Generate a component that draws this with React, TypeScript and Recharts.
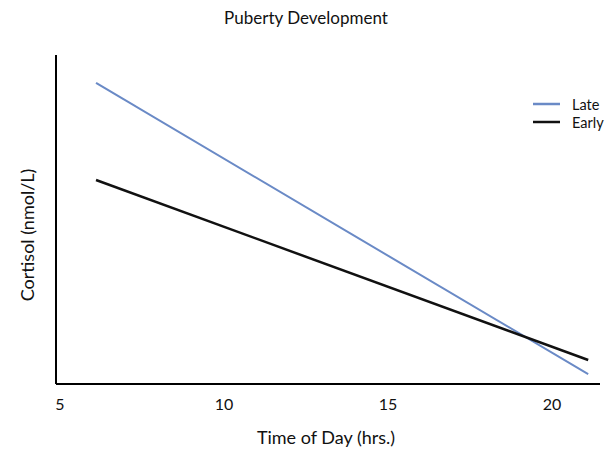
import { LineChart, Line, XAxis, YAxis } from 'recharts';

// hours of the day at each end of the fitted lines
const hours = [6.1, 21.1];
// cortisol (no y scale in the source, read as 0-100 of axis height)
const late = [91.5, 3.0];
const early = [62.0, 7.3];
const xTicks = [5, 10, 15, 20];

const data = hours.map((h, i) => ({ hour: h, late: late[i], early: early[i] }));

const SERIES = [
  { key: 'late', name: 'Late', color: '#6a8ac6', width: 2 },
  { key: 'early', name: 'Early', color: '#111111', width: 2.5 },
];

const FONT = 'Lato, "Open Sans", sans-serif';

const LegendBox = () => (
  <div style={{ position: 'absolute', left: 533, top: 95, fontFamily: FONT, fontSize: 14.5, color: '#111' }}>
    {SERIES.map((s) => (
      <div key={s.key} style={{ display: 'flex', alignItems: 'center', height: 18 }}>
        <svg width={27} height={6} style={{ marginRight: 12 }}>
          <line x1={0} y1={3} x2={27} y2={3} stroke={s.color} strokeWidth={2.5} />
        </svg>
        <span>{s.name}</span>
      </div>
    ))}
  </div>
);

const App = () => {
  return (
    <div style={{ position: 'absolute', left: 0, top: 0, width: 612, height: 449, background: '#fff' }}>
      <div
        style={{
          position: 'absolute',
          top: 7,
          width: 612,
          textAlign: 'center',
          fontFamily: FONT,
          fontSize: 17,
          color: '#111',
        }}
      >
        Puberty Development
      </div>
      <div
        style={{
          position: 'absolute',
          left: 27,
          top: 235,
          transform: 'translate(-50%, -50%) rotate(-90deg)',
          whiteSpace: 'nowrap',
          fontFamily: FONT,
          fontSize: 18,
          color: '#111',
        }}
      >
        Cortisol (nmol/L)
      </div>
      <div
        style={{
          position: 'absolute',
          top: 426,
          left: 0,
          width: 652,
          textAlign: 'center',
          fontFamily: FONT,
          fontSize: 18,
          color: '#111',
        }}
      >
        Time of Day (hrs.)
      </div>
      <LineChart width={612} height={449} data={data} margin={{ top: 55, right: 12, bottom: 35, left: 55 }}>
        <XAxis
          dataKey="hour"
          type="number"
          domain={[4.88, 21.46]}
          ticks={xTicks}
          allowDataOverflow
          height={30}
          tickLine={false}
          tickSize={0}
          tickMargin={15}
          axisLine={{ stroke: '#000', strokeWidth: 2 }}
          tick={{ fill: '#111', fontSize: 16, fontFamily: FONT }}
        />
        <YAxis
          type="number"
          domain={[0, 100]}
          width={1}
          tick={false}
          tickLine={false}
          axisLine={{ stroke: '#000', strokeWidth: 2 }}
        />
        {SERIES.map((s) => (
          <Line
            key={s.key}
            type="linear"
            dataKey={s.key}
            name={s.name}
            stroke={s.color}
            strokeWidth={s.width}
            dot={false}
            isAnimationActive={false}
          />
        ))}
      </LineChart>
      <LegendBox />
    </div>
  );
};

export default App;
